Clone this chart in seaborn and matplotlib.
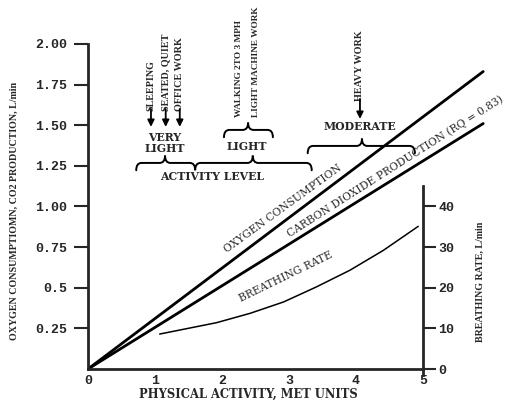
import numpy as np
import pandas as pd
import matplotlib
matplotlib.use("Agg")
import matplotlib.pyplot as plt
import seaborn as sns
from matplotlib.path import Path
from matplotlib.patches import PathPatch

# ---- data ----
line_met = [0.0, 5.9]
oxygen = [0.0, 1.83]
co2 = [0.0, 1.51]
br_met = [1.07, 1.92, 2.42, 2.92, 3.41, 3.91, 4.41, 4.93]
br_rate = [8.6, 11.4, 13.7, 16.5, 20.2, 24.3, 29.2, 35.1]
left_ticks = [0.25, 0.5, 0.75, 1.0, 1.25, 1.5, 1.75, 2.0]
left_labels = ["0.25", "0.5", "0.75", "1.00", "1.25", "1.50", "1.75", "2.00"]
x_ticks = [0, 1, 2, 3, 4, 5]
right_ticks = [0, 10, 20, 30, 40]

sns.set_style("white")
plt.rcParams["font.family"] = ["DejaVu Serif"]

lines = pd.DataFrame({"met": line_met * 2,
                      "val": oxygen + co2,
                      "series": ["O2"] * 2 + ["CO2"] * 2})
br = pd.DataFrame({"met": br_met, "rate": br_rate})

fig = plt.figure(figsize=(5.09, 4.03), dpi=100)
ax = fig.add_axes([88 / 509, 34 / 403, 422 / 509, 369 / 403])
sns.lineplot(data=lines, x="met", y="val", units="series", estimator=None,
             color="black", lw=2.0, ax=ax, legend=False)
ax.set_xlim(0, 6.3)
ax.set_ylim(0, 2.27)

ax2 = ax.twinx()
sns.lineplot(data=br, x="met", y="rate", color="black", lw=1.1, ax=ax2, legend=False)
ax2.set_ylim(0, 2.27 * 40)

for a in (ax, ax2):
    a.set_facecolor("none")
    a.set_xlabel("")
    a.set_ylabel("")
    a.spines["top"].set_visible(False)

ax.spines["right"].set_visible(False)
ax.spines["left"].set_linewidth(2)
ax.spines["bottom"].set_linewidth(2)
ax.spines["left"].set_bounds(0, 2.0)
ax.spines["bottom"].set_bounds(0, 5)
ax2.spines["left"].set_visible(False)
ax2.spines["bottom"].set_visible(False)
ax2.spines["right"].set_position(("data", 5))
ax2.spines["right"].set_linewidth(2)
ax2.spines["right"].set_bounds(-1.5, 45)

tfont = dict(family="Liberation Mono", weight="bold", fontsize=9.5)
ax.set_yticks(left_ticks)
ax.set_yticklabels(left_labels, **tfont)
ax.tick_params(axis="y", direction="out", length=10, width=1.5, pad=5)
ax.set_xticks(x_ticks)
ax.set_xticklabels([str(v) for v in x_ticks], **tfont)
ax.tick_params(axis="x", direction="out", length=4, width=1.5, pad=0)
ax2.set_yticks(right_ticks)
ax2.set_yticklabels([str(v) for v in right_ticks], **tfont)
ax2.tick_params(axis="y", direction="out", length=9, width=1.5, pad=2)

# axis labels
fig.text(248 / 509, 1 - 394 / 403, "PHYSICAL ACTIVITY, MET UNITS", ha="center", va="center",
         family="DejaVu Serif", weight="bold", fontsize=8.3)
fig.text(14 / 509, 1 - 211 / 403, "OXYGEN CONSUMPTIOMN, CO2 PRODUCTION, L/min", rotation=90,
         ha="center", va="center", family="Liberation Serif", weight="bold", fontsize=7.2)
fig.text(480 / 509, 1 - 282 / 403, "BREATHING RATE, L/min", rotation=90,
         ha="center", va="center", family="Liberation Serif", weight="bold", fontsize=7.2)


def py(p):
    return (369 - p) / 162.5


def brace(x0, x1, y, tips, h=0.045, d=0.08, lw=1.4):
    verts = [(x0, y - h), (x0, y), (x0 + d, y)]
    codes = [Path.MOVETO, Path.CURVE3, Path.CURVE3]
    for xt, s in tips:
        verts += [(xt - d, y), (xt, y), (xt, y + s * h), (xt, y), (xt + d, y)]
        codes += [Path.LINETO, Path.CURVE3, Path.CURVE3, Path.CURVE3, Path.CURVE3]
    verts += [(x1 - d, y), (x1, y), (x1, y - h)]
    codes += [Path.LINETO, Path.CURVE3, Path.CURVE3]
    ax.add_patch(PathPatch(Path(verts, codes), fill=False, lw=lw, color="black",
                           capstyle="round", clip_on=False))


vfont = dict(family="Liberation Serif", weight="bold", fontsize=7.3, rotation=90,
             ha="center", va="bottom")
for xv, lab in [(0.94, "SLEEPING"), (1.16, "SEATED, QUIET"), (1.37, "OFFICE WORK")]:
    ax.text(xv, py(111), lab, **vfont)
    ax.annotate("", xy=(xv, py(127)), xytext=(xv, py(109)),
                arrowprops=dict(arrowstyle="-|>", color="black", lw=1.3, mutation_scale=10,
                                shrinkA=0, shrinkB=0))
ax.text(4.06, py(101), "HEAVY WORK", **vfont)
ax.annotate("", xy=(4.06, py(119)), xytext=(4.06, py(99)),
            arrowprops=dict(arrowstyle="-|>", color="black", lw=1.3, mutation_scale=10,
                            shrinkA=0, shrinkB=0))
vfont2 = dict(vfont, fontsize=6.7)
ax.text(2.25, py(117), "WALKING 2TO 3 MPH", **vfont2)
ax.text(2.51, py(117), "LIGHT MACHINE WORK", **vfont2)

hfont = dict(family="DejaVu Serif", weight="bold", fontsize=7.8, ha="center", va="center")
ax.text(1.15, py(143), "VERY\nLIGHT", linespacing=0.95, **hfont)
ax.text(2.37, py(147), "LIGHT", **hfont)
ax.text(1.85, py(177), "ACTIVITY LEVEL", **hfont)
ax.text(4.06, py(127), "MODERATE", **hfont)

brace(2.03, 2.76, py(130), [(2.39, 1)])
brace(0.72, 3.34, py(163), [(1.15, 1), (1.6, -1), (2.46, 1)])
brace(3.28, 4.88, py(146), [(4.09, 1)])

lfont = dict(family="DejaVu Serif", fontsize=7.7, ha="center", va="center", rotation_mode="anchor")
ax.text(2.91, py(209), "OXYGEN CONSUMPTION", rotation=36, **lfont)
ax.text(4.58, py(166), "CARBON DIOXIDE PRODUCTION (RQ = 0.83)", rotation=32.5, **lfont)
ax.text(2.96, py(277), "BREATHING RATE", rotation=26, **lfont)

fig.savefig("out.png", dpi=100)
